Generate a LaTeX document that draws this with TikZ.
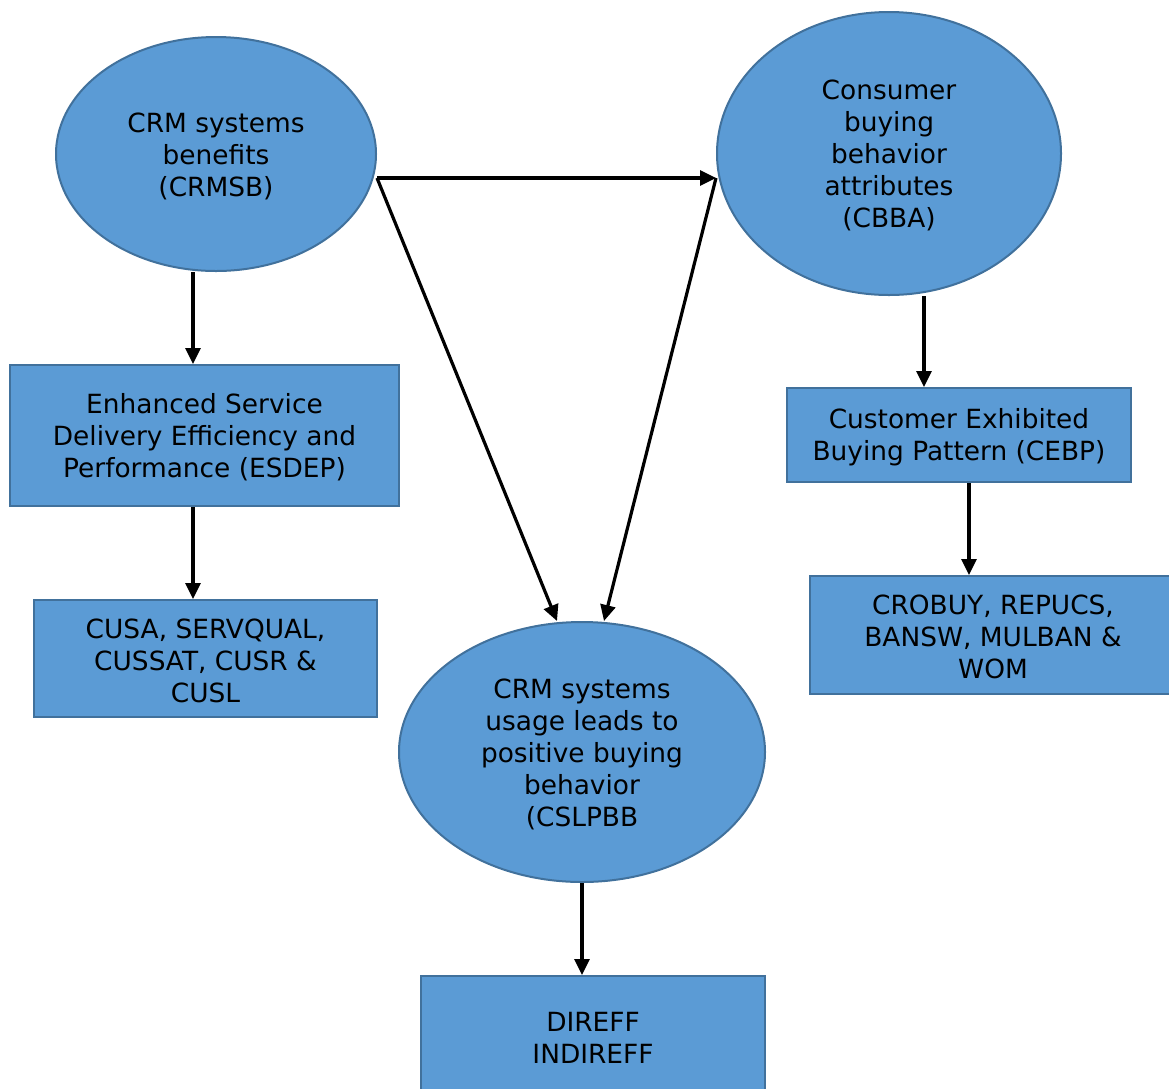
\documentclass[tikz,border=0pt]{standalone}
\usepackage{fontspec}
\setmainfont{DejaVu Sans}
\usetikzlibrary{shapes.geometric,arrows.meta}
\definecolor{boxfill}{HTML}{5B9BD5}
\definecolor{boxline}{HTML}{41719C}
\newcommand\tstrut{\rule{0pt}{24pt}}
\tikzset{
  shapebase/.style={fill=boxfill,draw=boxline,line width=2pt,inner sep=0pt,align=center,
    font=\fontsize{26.4pt}{32pt}\selectfont,text=black},
  oval/.style={shapebase,ellipse},
  box/.style={shapebase,rectangle},
  arr/.style={line width=3.2pt,-{Triangle[length=16pt,width=15pt]}},
}
\begin{document}
\begin{tikzpicture}[x=1pt,y=-1pt]
\useasboundingbox (0,0) rectangle (1169,1088);
\clip (0,0) rectangle (1169,1088);
% ellipses
\node[oval,minimum width=320pt,minimum height=234pt] (crmsb) at (216,154)
  {\tstrut CRM systems\\benefits\\(CRMSB)};
\node[oval,minimum width=344pt,minimum height=283pt] (cbba) at (889,153.5)
  {\tstrut Consumer\\buying\\behavior\\attributes\\(CBBA)};
\node[oval,minimum width=366pt,minimum height=260pt] (cslpbb) at (582,752)
  {\tstrut CRM systems\\usage leads to\\positive buying\\behavior\\(CSLPBB};
% boxes
\node[box,minimum width=389pt,minimum height=141pt] (esdep) at (204.5,435.5)
  {\tstrut Enhanced Service\\Delivery Efficiency and\\Performance (ESDEP)};
\node[box,minimum width=343pt,minimum height=117pt] (cusa) at (205.5,658.5)
  {\tstrut CUSA, SERVQUAL,\\CUSSAT, CUSR \&\\CUSL};
\node[box,minimum width=344pt,minimum height=94pt] (cebp) at (959,435)
  {\tstrut Customer Exhibited\\Buying Pattern (CEBP)};
\node[box,minimum width=366pt,minimum height=118pt] (crobuy) at (993,635)
  {\tstrut CROBUY, REPUCS,\\BANSW, MULBAN \&\\WOM};
\node[box,minimum width=344pt,minimum height=118pt] (direff) at (593,1035)
  {\tstrut DIREFF\\INDIREFF};
% helper coordinates
\coordinate (xa) at (193,0);
\coordinate (s) at (377,178);
\coordinate (p1) at (557,0);
\coordinate (p2) at (604,0);
\coordinate (q) at (924,0);
\coordinate (r) at (969,0);
% connectors
\draw[arr] (crmsb.south -| xa) -- (esdep.north -| xa);
\draw[arr] (esdep.south -| xa) -- (cusa.north -| xa);
\draw[arr] (s) -- (cbba.west |- s);
\draw[arr] (s) -- (cslpbb.north -| p1);
\draw[arr] (cbba.west |- s) -- (cslpbb.north -| p2);
\draw[arr] (cbba.south -| q) -- (cebp.north -| q);
\draw[arr] (cebp.south -| r) -- (crobuy.north -| r);
\draw[arr] (cslpbb.south) -- (direff.north -| cslpbb.south);
\end{tikzpicture}
\end{document}
